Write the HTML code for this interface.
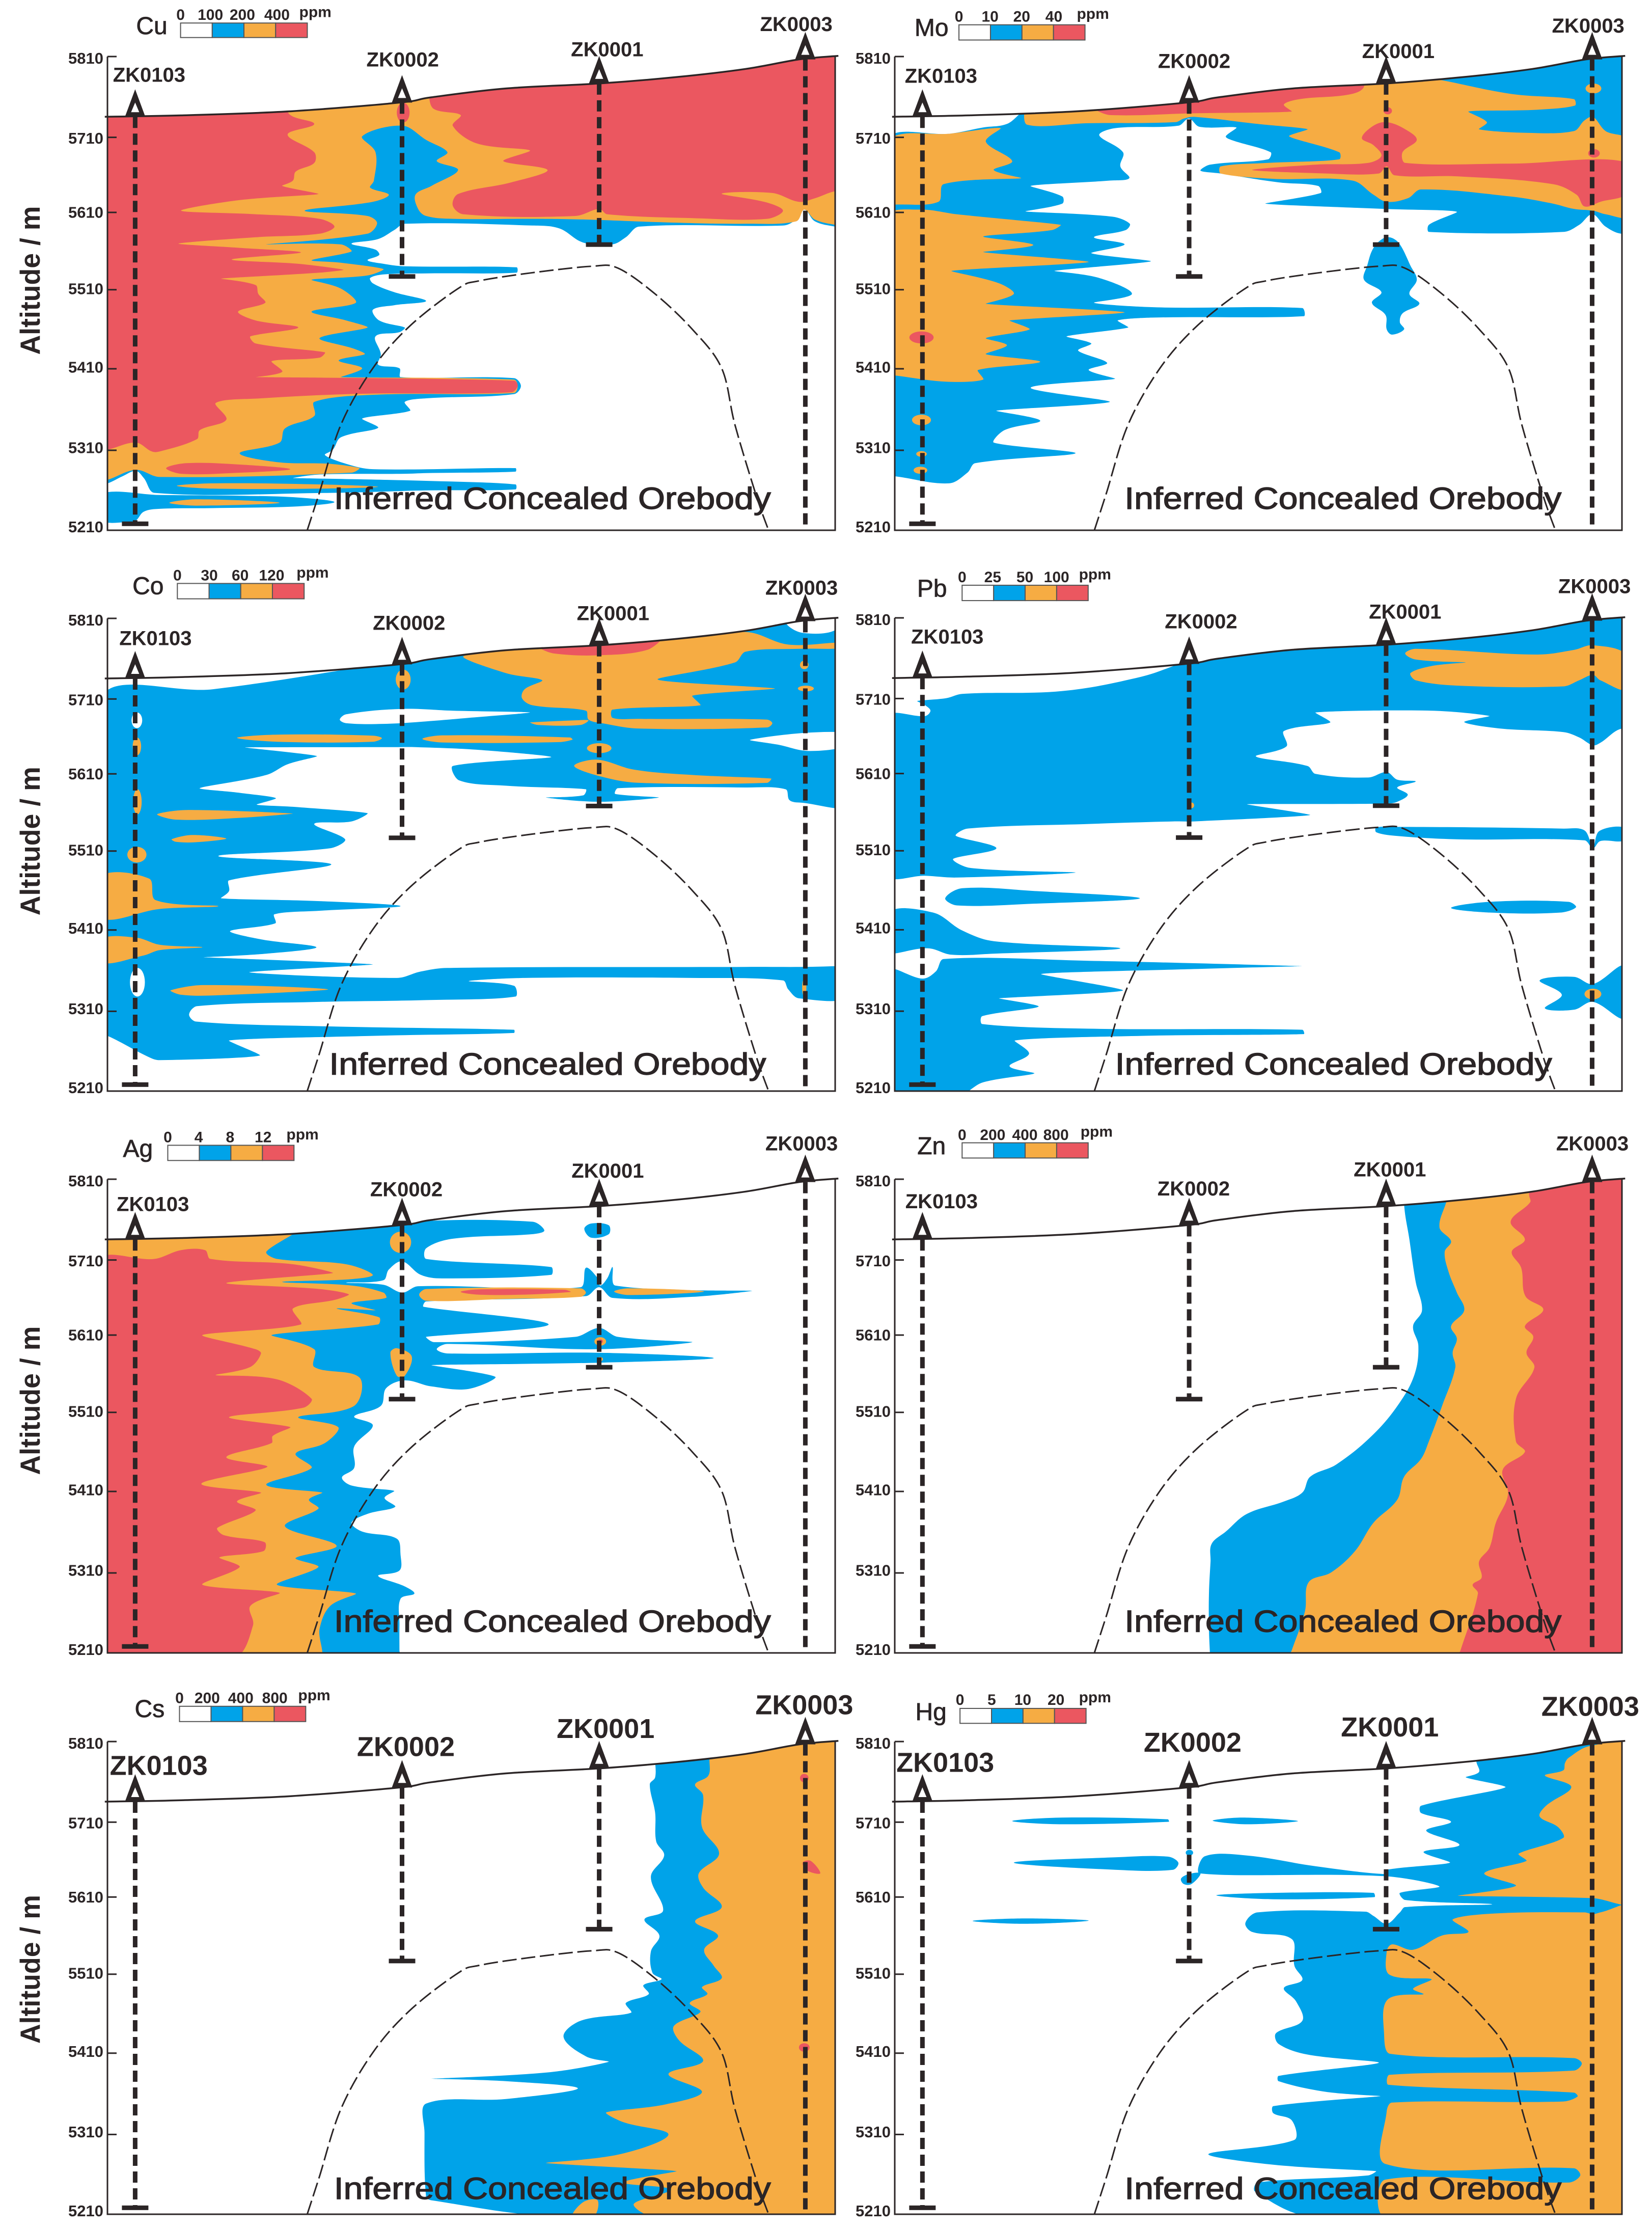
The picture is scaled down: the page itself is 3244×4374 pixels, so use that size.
<!DOCTYPE html>
<html lang="en">
<head>
<meta charset="utf-8">
<title>Geochemical cross-sections</title>
<style>
html,body{margin:0;padding:0;background:#fff}
svg{display:block}
text{font-family:"Liberation Sans",sans-serif;fill:#2b2526}
</style>
</head>
<body>
<svg id="chart" xmlns="http://www.w3.org/2000/svg" width="3244" height="4374" viewBox="0 0 3244 4374"></svg>
<script>
/* Shared axis / section values. Contour vertices are [station along section, depth row]. */
const altitudeTicks = [5810, 5710, 5610, 5510, 5410, 5310, 5210];
const altitudeWarpMetres = [0, -2.3, 2.6, 4.7, 4.5, 1.3, 0];
const wellNames = ['ZK0103', 'ZK0002', 'ZK0001', 'ZK0003'];
const wellStations = [52, 553, 923, 1310];
const wellCollars = [170, 130, 76, 8];
const wellBottoms = [1318, 620, 530, 1330];
const surfaceProfile = [[-5,170],[138,166],[338,155],[548,130],[608,115],[748,90],[923,76],[1068,58],[1198,35],[1298,8],[1372,-2]];
const orebodyProfile = [[375,1337],[398,1230],[438,1040],[498,880],[568,760],[658,655],[698,633],[798,610],[908,592],[958,597],[1028,670],[1098,770],[1153,880],[1178,1040],[1218,1240],[1241,1337]];

/* Cu */
const cuBlueMain = [[190,1365],[190,100],[1600,100],[1600,645],[1568,640],[1530,625],[1510,592],[1490,625],[1470,637],[1200,640],[1175,670],[1150,690],[1095,685],[1050,645],[1000,637],[760,632],[740,650],[710,675],[660,688],[705,705],[712,720],[690,735],[720,745],[760,752],[970,755],[970,770],[800,772],[720,775],[695,785],[700,800],[740,825],[800,850],[740,862],[700,875],[712,905],[760,925],[750,938],[705,950],[715,1000],[710,1030],[750,1040],[752,1065],[965,1068],[978,1090],[965,1113],[800,1125],[760,1135],[770,1160],[680,1182],[710,1208],[640,1235],[625,1270],[610,1285],[650,1310],[700,1325],[968,1322],[968,1332],[800,1336],[760,1338],[600,1340],[550,1350],[800,1358],[968,1368],[968,1382],[800,1385],[620,1392],[290,1392],[270,1350],[255,1330],[230,1345],[202,1365]];
const cuBlueLobe = [[190,1395],[300,1398],[450,1400],[560,1405],[628,1418],[560,1430],[400,1435],[300,1437],[270,1445],[255,1470],[240,1475],[190,1468]];
const cuOrangeMain = [[190,100],[1600,100],[1600,640],[1568,635],[1530,620],[1510,592],[1495,625],[1400,632],[1250,628],[1100,620],[1000,618],[850,618],[800,610],[785,590],[780,550],[810,525],[860,480],[820,455],[840,430],[800,395],[755,355],[680,385],[705,430],[702,510],[695,530],[730,550],[700,570],[572,595],[690,610],[708,630],[690,660],[500,690],[640,690],[660,710],[585,735],[640,742],[720,760],[690,778],[585,790],[640,815],[668,855],[585,880],[650,905],[690,925],[600,955],[665,985],[685,1000],[636,1018],[680,1040],[640,1065],[965,1072],[972,1090],[965,1110],[700,1115],[590,1135],[590,1175],[535,1210],[525,1250],[450,1280],[520,1305],[620,1310],[675,1322],[660,1335],[300,1347],[255,1327],[202,1355],[190,1355]];
const cuRedWest = [[190,100],[540,100],[540,315],[590,350],[540,380],[590,430],[590,460],[555,485],[550,510],[530,525],[598,548],[450,565],[340,595],[480,605],[600,618],[628,640],[600,660],[480,670],[335,688],[450,700],[565,713],[435,733],[560,745],[645,762],[600,770],[415,787],[480,805],[485,830],[498,855],[447,880],[480,905],[560,925],[470,950],[480,970],[610,995],[600,1010],[510,1020],[530,1050],[480,1065],[965,1075],[972,1090],[960,1108],[680,1112],[490,1125],[405,1138],[425,1185],[375,1215],[370,1240],[300,1275],[285,1275],[255,1250],[202,1270],[190,1270]];
const cuRedEast = [[806,100],[806,275],[815,308],[865,325],[850,355],[895,405],[995,425],[945,455],[1028,480],[960,515],[860,548],[850,580],[870,605],[1080,610],[1125,590],[1140,605],[1300,616],[1440,618],[1470,595],[1440,572],[1355,547],[1450,545],[1500,570],[1530,560],[1568,540],[1600,540],[1600,100]];
const cuRedLens = [[312,1322],[350,1308],[450,1312],[545,1325],[450,1335],[340,1338]];
const cuOrangeLensA = [[332,1372],[400,1365],[600,1368],[710,1375],[600,1380],[400,1380]];
const cuOrangeLensB = [[318,1420],[370,1410],[525,1420],[370,1428]];
const cuRedSpots = [[757,318,12,28]];

/* Mo */
const moBlueMain = [[120,397],[240,377],[300,360],[345,350],[385,310],[1000,200],[1600,100],[1600,660],[1510,660],[1480,640],[1455,605],[1430,635],[1400,655],[1145,655],[1145,635],[1198,598],[1060,590],[835,575],[940,545],[935,525],[860,515],[750,490],[712,482],[730,465],[840,450],[845,430],[770,395],[760,385],[780,360],[710,358],[690,335],[670,355],[550,362],[520,382],[565,430],[560,470],[577,503],[540,510],[390,525],[450,555],[450,575],[380,597],[545,612],[578,632],[570,650],[510,670],[568,690],[505,715],[618,738],[435,765],[520,785],[582,830],[510,855],[630,868],[905,870],[908,893],[620,897],[555,905],[575,925],[458,950],[505,970],[480,990],[535,1025],[500,1045],[550,1070],[390,1095],[540,1135],[325,1160],[408,1188],[340,1215],[320,1250],[475,1280],[285,1308],[270,1335],[235,1365],[132,1345],[120,1345]];
const moBlueBlob = [[1060,672],[1075,672],[1090,690],[1110,750],[1122,790],[1108,830],[1127,858],[1095,885],[1090,910],[1098,930],[1075,945],[1065,930],[1063,890],[1037,855],[1055,825],[1022,790],[1028,750],[1040,700]];
const moOrangeUpperWest = [[120,397],[240,377],[333,362],[305,400],[355,455],[320,480],[372,503],[225,520],[215,570],[130,578],[120,578]];
const moOrangeLowerWest = [[120,610],[180,592],[250,605],[447,635],[430,650],[300,668],[395,692],[300,712],[500,740],[240,765],[330,800],[358,830],[305,858],[568,882],[350,905],[388,930],[305,955],[345,975],[305,1000],[408,1022],[290,1045],[300,1072],[230,1078],[130,1060],[120,1060]];
const moOrangeEast = [[383,352],[385,300],[520,290],[700,265],[1020,215],[1120,215],[1300,265],[1420,280],[1422,298],[1350,310],[1220,315],[1255,345],[1240,365],[1330,375],[1420,370],[1440,340],[1456,330],[1480,370],[1520,395],[1520,610],[1480,605],[1456,595],[1420,590],[1380,575],[1300,555],[1130,535],[1105,560],[1065,570],[1040,550],[1000,510],[850,505],[750,490],[750,470],[840,460],[975,450],[975,430],[880,385],[915,365],[820,350],[700,330],[680,335],[665,345],[500,348]];
const moRedTop = [[515,310],[700,270],[1020,215],[1020,250],[990,268],[900,280],[870,295],[885,315],[700,320],[540,325]];
const moRedCentre = [[810,480],[930,465],[1030,460],[1055,440],[1040,410],[1018,390],[1040,355],[1065,345],[1100,365],[1122,395],[1095,430],[1100,460],[1300,462],[1520,458],[1520,545],[1470,570],[1440,583],[1425,550],[1380,520],[1200,498],[1080,495],[1065,470],[1050,490],[950,490]];
const moRedSpots = [[1067,313,8,10],[1458,433,11,12],[183,953,23,17]];
const moOrangeSpots = [[1457,250,15,14],[183,1186,18,15],[183,1282,10,8],[181,1328,13,10]];

/* Co */
const coBlueMain = [[190,402],[400,375],[640,322],[750,290],[1000,150],[1600,150],[1600,692],[1500,692],[1482,685],[1475,655],[1400,650],[1160,652],[1155,668],[1237,678],[1125,690],[1025,678],[1095,672],[1100,655],[950,645],[862,630],[850,590],[1035,565],[900,545],[780,537],[740,537],[460,538],[595,562],[540,585],[500,615],[375,652],[450,665],[518,680],[482,698],[560,705],[690,722],[660,745],[590,752],[648,795],[620,820],[410,842],[622,865],[430,910],[430,940],[415,960],[600,968],[752,982],[600,995],[515,1005],[517,1030],[432,1052],[490,1075],[594,1097],[500,1115],[382,1125],[700,1145],[468,1167],[745,1183],[790,1165],[840,1155],[1400,1152],[1568,1150],[1600,1140],[1600,1235],[1500,1240],[1480,1215],[1470,1190],[1300,1183],[985,1183],[880,1192],[965,1205],[968,1235],[800,1245],[600,1250],[370,1262],[355,1285],[368,1305],[600,1318],[965,1328],[965,1337],[700,1345],[430,1358],[488,1400],[300,1413],[280,1405],[202,1345],[190,1345]];
const coWhiteHoleA = [[638,460],[650,445],[755,430],[850,435],[995,440],[880,455],[800,465],[720,472],[650,470]];
const coWhiteHoleB = [[1408,517],[1512,497],[1600,500],[1600,530],[1520,548],[1460,530]];
const coWhiteCorner = [[1478,195],[1510,218],[1570,208],[1570,160],[1478,170]];
const coOrangeCentre = [[870,283],[1015,260],[1125,252],[1240,240],[1400,215],[1480,250],[1580,245],[1580,260],[1500,262],[1400,270],[1380,300],[1235,348],[1455,373],[1300,393],[1315,420],[1150,432],[1150,455],[1200,458],[1440,460],[1450,470],[1440,482],[1200,485],[1130,470],[1105,460],[1100,435],[1000,420],[980,400],[985,375],[1018,350],[950,330]];
const coOrangeTail = [[995,468],[1080,462],[1105,462],[1090,475],[1010,475]];
const coRedTop = [[1015,260],[1125,235],[1243,230],[1215,265],[1125,280],[1040,275]];
const coLensA = [[445,511],[520,502],[700,505],[717,512],[700,522],[520,522]];
const coLensB = [[793,514],[830,504],[1070,510],[1075,516],[1050,523],[830,524]];
const coLensC = [[1078,590],[1120,572],[1190,600],[1300,615],[1448,625],[1440,637],[1200,637],[1130,620]];
const coLensD = [[295,725],[350,713],[550,723],[450,735],[330,740]];
const coLensE = [[322,795],[360,783],[425,793],[370,803],[330,802]];
const coLensF = [[320,1218],[380,1203],[616,1215],[400,1232],[340,1230]];
const coLeftA = [[190,898],[280,905],[292,965],[410,982],[300,990],[190,1015]];
const coLeftB = [[190,1075],[255,1070],[300,1090],[380,1097],[300,1105],[270,1120],[190,1140]];
const coWhiteSpots = [[257,462,10,22],[258,1195,14,40]];
const coOrangeSpots = [[1125,540,23,14],[757,348,14,28],[257,535,8,25],[258,690,8,35],[257,838,18,22],[1510,307,8,12],[1513,373,15,8],[1510,1210,4,25]];

/* Pb */
const pbBlueMain = [[120,452],[190,450],[200,435],[190,420],[175,408],[230,400],[260,388],[450,380],[600,340],[680,300],[1000,150],[1600,150],[1600,480],[1511,485],[1470,525],[1456,532],[1430,510],[1400,495],[1280,485],[1212,467],[1260,450],[1150,435],[930,440],[958,468],[870,492],[875,535],[817,563],[915,590],[930,612],[1030,622],[1065,607],[1085,628],[1120,633],[1085,650],[1105,670],[1085,690],[1065,695],[800,697],[920,727],[700,745],[660,745],[500,752],[270,765],[248,785],[325,820],[243,850],[275,875],[475,888],[250,902],[190,897],[120,895]];
const pbBlueLensA = [[228,960],[260,932],[400,940],[597,960],[400,975],[250,980]];
const pbBlueLobe = [[120,1000],[205,1000],[260,1050],[320,1080],[560,1100],[320,1115],[240,1118],[195,1100],[130,1115],[120,1115]];
const pbBlueLower = [[120,1162],[185,1185],[210,1165],[225,1130],[500,1135],[905,1150],[700,1158],[410,1172],[565,1218],[330,1240],[405,1263],[298,1290],[298,1312],[500,1325],[905,1328],[908,1340],[600,1345],[360,1358],[387,1395],[350,1430],[397,1450],[300,1475],[255,1510],[120,1510]];
const pbBlueBand = [[1045,762],[1080,760],[1400,765],[1440,770],[1456,815],[1468,772],[1515,762],[1515,798],[1470,800],[1456,820],[1440,798],[1200,795],[1080,785],[1045,775]];
const pbBlueLensB = [[1187,987],[1260,970],[1410,970],[1424,985],[1395,1000],[1260,1000]];
const pbBlueWedge = [[1355,1190],[1420,1180],[1456,1200],[1515,1150],[1515,1295],[1456,1250],[1420,1272],[1365,1268],[1397,1230]];
const pbOrangeEast = [[1100,275],[1120,262],[1350,278],[1420,265],[1456,252],[1520,280],[1520,375],[1470,350],[1456,335],[1430,350],[1400,367],[1200,365],[1120,350],[1110,330],[1150,310],[1215,300],[1120,292]];
const pbOrangeSpots = [[1456,1228,16,15],[695,700,5,8]];

/* Ag */
const agBlueMain = [[190,345],[560,335],[770,300],[1000,300],[1022,325],[1000,335],[850,348],[800,375],[800,405],[1035,428],[1035,450],[830,460],[790,450],[755,412],[730,435],[720,465],[650,472],[720,478],[755,500],[785,482],[1090,485],[1100,430],[1120,455],[1127,480],[1140,460],[1150,428],[1155,480],[1412,495],[1300,512],[1150,515],[1125,485],[1100,510],[800,525],[795,540],[1030,590],[800,625],[815,640],[1080,625],[1125,600],[1160,625],[1300,640],[1120,660],[840,645],[820,660],[840,672],[1125,670],[1340,685],[1125,698],[810,705],[930,738],[880,772],[810,765],[760,748],[725,770],[715,820],[665,850],[700,875],[665,935],[665,995],[642,1022],[660,1045],[740,1060],[722,1080],[742,1105],[690,1125],[660,1150],[680,1175],[745,1195],[752,1240],[750,1285],[710,1300],[760,1330],[778,1350],[752,1365],[750,1440],[750,1510],[750,1530],[190,1530]];
const agBlueBlob = [[1097,320],[1110,305],[1143,310],[1143,335],[1110,345]];
const agOrangeMain = [[190,345],[553,330],[500,385],[520,405],[650,420],[700,450],[660,462],[530,470],[660,480],[720,500],[725,515],[660,530],[705,550],[632,545],[712,570],[710,590],[510,620],[590,660],[590,710],[675,740],[665,820],[560,852],[635,880],[610,925],[555,955],[585,995],[500,1043],[605,1065],[580,1085],[598,1110],[535,1160],[632,1215],[555,1250],[598,1275],[520,1325],[668,1350],[620,1385],[600,1450],[600,1530],[190,1530]];
const agRedMain = [[190,410],[290,405],[340,380],[385,380],[395,405],[550,420],[625,445],[425,473],[600,490],[655,505],[630,520],[550,545],[565,590],[380,620],[480,660],[490,672],[470,710],[405,733],[520,745],[585,800],[570,825],[430,852],[545,880],[512,905],[510,925],[425,965],[502,992],[378,1040],[490,1065],[445,1090],[480,1115],[408,1165],[420,1185],[497,1205],[495,1230],[412,1248],[450,1275],[380,1325],[525,1348],[470,1385],[475,1440],[440,1530],[190,1530]];
const agOrangeLensA = [[787,506],[800,490],[1090,488],[1100,500],[1090,512],[950,518],[800,523]];
const agRedLens = [[865,498],[900,491],[1060,492],[1072,498],[1000,505],[900,506]];
const agOrangeLensB = [[1153,497],[1180,488],[1322,497],[1180,507]];
const agOrangeLobe = [[733,670],[745,657],[773,680],[760,735],[745,735]];
const agOrangeSpots = [[752,358,20,30],[1127,638,11,12],[1127,688,5,6]];
const agRedSpots = [[1127,638,5,6]];

/* Zn */
const znBlue = [[1098,250],[1108,350],[1120,470],[1132,550],[1115,595],[1125,650],[1118,730],[1090,810],[1040,900],[970,985],[920,1020],[905,1065],[870,1090],[800,1125],[760,1175],[733,1210],[731,1260],[728,1350],[728,1450],[730,1525],[730,1535],[1520,1535],[1520,150],[1100,150]];
const znOrange = [[1180,230],[1165,315],[1187,355],[1175,385],[1182,440],[1198,500],[1212,550],[1187,595],[1198,630],[1190,670],[1195,712],[1170,820],[1145,920],[1130,970],[1098,1020],[1085,1085],[1040,1150],[1005,1230],[960,1290],[917,1318],[910,1400],[885,1510],[878,1535],[1520,1535],[1520,150],[1180,150]];
const znRed = [[1335,225],[1337,245],[1300,300],[1327,350],[1302,385],[1320,430],[1328,510],[1362,548],[1327,595],[1343,625],[1330,670],[1345,712],[1310,800],[1310,920],[1327,950],[1285,1000],[1295,1070],[1272,1150],[1260,1220],[1240,1260],[1245,1305],[1228,1325],[1238,1350],[1205,1510],[1198,1535],[1520,1535],[1520,150],[1335,150]];

/* Cs */
const csBlue = [[1230,250],[1230,300],[1220,320],[1230,400],[1232,480],[1247,520],[1222,580],[1245,675],[1210,700],[1238,745],[1222,790],[1225,850],[1242,868],[1208,885],[1218,910],[1175,935],[1185,962],[1090,985],[1058,1030],[1100,1085],[1143,1100],[1030,1130],[810,1148],[950,1155],[1085,1175],[950,1205],[800,1218],[797,1300],[800,1480],[810,1490],[1040,1535],[1620,1535],[1620,150],[1230,150]];
const csOrange = [[1332,250],[1330,295],[1305,320],[1320,350],[1318,440],[1350,515],[1312,570],[1320,610],[1355,665],[1305,705],[1348,745],[1322,785],[1340,830],[1355,865],[1318,890],[1328,910],[1295,935],[1315,960],[1265,1000],[1275,1040],[1320,1098],[1255,1135],[1318,1185],[1250,1220],[1138,1243],[1170,1270],[1255,1305],[1165,1360],[1025,1385],[1270,1408],[1170,1440],[1260,1460],[1190,1500],[1225,1535],[1620,1535],[1620,150],[1332,150]];
const csOrangeBlob = [[1075,1535],[1095,1495],[1122,1490],[1115,1535]];
const csRedPatch = [[1507,540],[1522,535],[1540,570],[1515,562]];
const csRedSpots = [[1510,302,8,12],[1510,1060,10,12]];

/* Hg */
const hgBlueMain = [[1235,255],[1240,285],[1215,300],[1290,328],[1130,380],[1130,400],[1187,425],[1140,450],[1203,490],[1135,510],[1185,540],[1065,560],[1060,572],[930,550],[800,520],[720,522],[710,570],[1060,578],[1165,607],[1090,625],[1100,645],[1265,657],[1100,665],[1090,680],[1065,712],[1040,690],[1025,678],[820,680],[797,710],[810,735],[885,755],[890,830],[905,870],[870,893],[893,930],[905,985],[855,1020],[860,1050],[915,1080],[1050,1103],[860,1140],[860,1155],[950,1185],[1053,1197],[850,1225],[850,1245],[885,1265],[890,1320],[727,1360],[850,1390],[1045,1408],[1030,1420],[820,1440],[815,1465],[920,1535],[1530,1535],[1530,150],[1235,150]];
const hgLensA = [[355,423],[450,413],[650,418],[652,425],[450,432]];
const hgLensB = [[735,422],[790,413],[897,423],[800,432]];
const hgLensC = [[358,540],[550,525],[650,523],[670,540],[660,560],[550,560]];
const hgHook = [[675,585],[690,572],[712,570],[695,600],[680,600]];
const hgLensD = [[742,632],[850,625],[1040,625],[1042,637],[850,643]];
const hgLensE = [[280,704],[380,697],[500,703],[380,712]];
const hgOrangeUpper = [[1410,245],[1450,212],[1530,212],[1530,650],[1456,640],[1200,633],[1310,605],[1250,570],[1330,535],[1315,515],[1400,470],[1390,440],[1355,410],[1367,380],[1415,327],[1365,295],[1400,280],[1403,260]];
const hgOrangeLower = [[1530,662],[1470,680],[1456,685],[1440,680],[1270,683],[1190,700],[1220,735],[1170,745],[1115,785],[1075,770],[1065,790],[1070,855],[1150,868],[1115,895],[1135,910],[1067,925],[1060,1020],[1072,1078],[1420,1090],[1435,1105],[1420,1125],[1070,1137],[1068,1165],[1420,1187],[1427,1198],[1400,1212],[1075,1215],[1065,1240],[1063,1388],[1420,1400],[1432,1420],[1410,1440],[1062,1432],[1060,1535],[1530,1535]];
const hgBlueSpots = [[691,512,7,8]];

const colours = {white:'#ffffff', blue:'#00a3e9', orange:'#f6ac43', red:'#eb5760'};
const ink = '#2b2526';
const NS = 'http://www.w3.org/2000/svg';
const svg = document.getElementById('chart');

const panels = [
 {el:'Cu', cropX:0, cropY:0, sx:1.0459, sy:0.69515, left:211, top:111, h:930, w:1429, wellFont:40,
  legendRange:['0','100','200','400'], legendX:[339,395,455,520], legendLabelRow:40, ppm:[592,35], legendBox:[339,577,65,106], title:[285,72],
  wellLabels:[[280,210],[756,167],[1140,138],[1495,67]], note:[627,1437], axisTitleRow:792,
  regions:[['blue',cuBlueMain],['blue',cuBlueLobe],['orange',cuOrangeMain],['red',cuRedWest],['red',cuRedEast],['red',cuRedLens],['orange',cuOrangeLensA],['orange',cuOrangeLensB]],
  spots:[['red',cuRedSpots]]},
 {el:'Mo', cropX:1620, cropY:0, sx:1.0357, sy:0.69515, left:1757, top:111, h:930, w:1428, wellFont:40,
  legendRange:['0','10','20','40'], legendX:[254,313,373,434], legendLabelRow:45, ppm:[508,40], legendBox:[254,493,70,113], title:[202,77],
  wellLabels:[[220,213],[700,171],[1087,143],[1447,71]], note:[568,1437],
  regions:[['blue',moBlueMain],['blue',moBlueBlob],['orange',moOrangeUpperWest],['orange',moOrangeLowerWest],['orange',moOrangeEast],['red',moRedTop],['red',moRedCentre]],
  spots:[['red',moRedSpots],['orange',moOrangeSpots]]},
 {el:'Co', cropX:0, cropY:1090, sx:1.0459, sy:0.70153, left:211, top:1214, h:928, w:1429, wellFont:40,
  legendRange:['0','30','60','120'], legendX:[333,393,451,510], legendLabelRow:55, ppm:[587,50], legendBox:[333,571,79,122], title:[278,85],
  wellLabels:[[292,231],[768,188],[1151,161],[1505,90]], note:[618,1453], axisTitleRow:800,
  regions:[['blue',coBlueMain],['white',coWhiteHoleA],['white',coWhiteHoleB],['white',coWhiteCorner],['orange',coOrangeCentre],['orange',coOrangeTail],['red',coRedTop],['orange',coLensA],['orange',coLensB],['orange',coLensC],['orange',coLensD],['orange',coLensE],['orange',coLensF],['orange',coLeftA],['orange',coLeftB]],
  spots:[['white',coWhiteSpots],['orange',coOrangeSpots]]},
 {el:'Pb', cropX:1620, cropY:1090, sx:1.0357, sy:0.70153, left:1757, top:1213, h:929, w:1428, wellFont:40,
  legendRange:['0','25','50','100'], legendX:[260,318,379,439], legendLabelRow:60, ppm:[512,55], legendBox:[260,499,84,127], title:[203,92],
  wellLabels:[[232,227],[713,184],[1100,157],[1459,86]], note:[550,1453],
  regions:[['blue',pbBlueMain],['blue',pbBlueLensA],['blue',pbBlueLobe],['blue',pbBlueLower],['blue',pbBlueBand],['blue',pbBlueLensB],['blue',pbBlueWedge],['orange',pbOrangeEast]],
  spots:[['orange',pbOrangeSpots]]},
 {el:'Ag', cropX:0, cropY:2190, sx:1.0459, sy:0.69515, left:211, top:2315, h:930, w:1429, wellFont:40,
  legendRange:['0','4','8','12'], legendX:[315,373,432,494], legendLabelRow:60, ppm:[568,55], legendBox:[315,552,84,127], title:[259,92],
  wellLabels:[[287,249],[763,207],[1141,155],[1505,78]], note:[627,1458], axisTitleRow:805,
  regions:[['blue',agBlueMain],['blue',agBlueBlob],['orange',agOrangeMain],['red',agRedMain],['orange',agOrangeLensA],['red',agRedLens],['orange',agOrangeLensB],['orange',agOrangeLobe]],
  spots:[['orange',agOrangeSpots],['red',agRedSpots]]},
 {el:'Zn', cropX:1620, cropY:2190, sx:1.0357, sy:0.69515, left:1757, top:2315, h:930, w:1428, wellFont:40,
  legendRange:['0','200','400','800'], legendX:[260,318,379,438], legendLabelRow:53, ppm:[515,47], legendBox:[260,499,77,120], title:[202,85],
  wellLabels:[[221,241],[699,205],[1071,151],[1455,78]], note:[568,1458],
  regions:[['blue',znBlue],['orange',znOrange],['red',znRed]],
  spots:[]},
 {el:'Cs', cropX:0, cropY:3280, sx:1.0459, sy:0.6977, left:211, top:3419, h:928, w:1429, wellFont:54,
  legendRange:['0','200','400','800'], legendX:[337,389,452,516], legendLabelRow:75, ppm:[590,70], legendBox:[337,574,100,143], title:[281,106],
  wellLabels:[[298,265],[762,212],[1137,161],[1510,95]], note:[627,1486], axisTitleRow:840,
  regions:[['blue',csBlue],['orange',csOrange],['orange',csOrangeBlob],['red',csRedPatch]],
  spots:[['red',csRedSpots]]},
 {el:'Hg', cropX:1620, cropY:3280, sx:1.0357, sy:0.6977, left:1757, top:3419, h:928, w:1428, wellFont:54,
  legendRange:['0','5','10','20'], legendX:[256,316,375,438], legendLabelRow:80, ppm:[512,76], legendBox:[256,495,106,148], title:[201,115],
  wellLabels:[[228,257],[697,200],[1071,157],[1451,99]], note:[568,1486],
  regions:[['blue',hgBlueMain],['blue',hgLensA],['blue',hgLensB],['blue',hgLensC],['blue',hgHook],['blue',hgLensD],['blue',hgLensE],['orange',hgOrangeUpper],['orange',hgOrangeLower]],
  spots:[['blue',hgBlueSpots]]}
];

/* Axis functions */
function stationX(p, d){ return p.cropX + d * p.sx; }
function rowY(p, r){ return p.cropY + r * p.sy; }
function sectionX(p, u){ return p.left + u * p.w / 1366; }
function sectionY(p, v){ return p.top + v * p.h / 1337; }
function altitudeY(p, a, i){ return p.top + (5810 - (a + altitudeWarpMetres[i])) / 600 * p.h; }

/* Tangent at vertex b: direction a->c, shrunk at sharp turns so tips stay pointed */
function tangent(a, b, c){
  const ux = b[0] - a[0], uy = b[1] - a[1], vx = c[0] - b[0], vy = c[1] - b[1];
  const lu = Math.hypot(ux, uy) || 1, lv = Math.hypot(vx, vy) || 1;
  const cosT = (ux * vx + uy * vy) / (lu * lv);
  const f = Math.sqrt(Math.max(0, (1 + cosT) / 2));
  const dx = c[0] - a[0], dy = c[1] - a[1], ld = Math.hypot(dx, dy) || 1;
  return [dx / ld * f, dy / ld * f];
}
function smoothClosed(q){
  const n = q.length, k = 0.36;
  let s = 'M' + q[0][0].toFixed(1) + ' ' + q[0][1].toFixed(1);
  for (let i = 0; i < n; i++){
    const a = q[(i - 1 + n) % n], b = q[i], c = q[(i + 1) % n], d = q[(i + 2) % n];
    const L = Math.hypot(c[0] - b[0], c[1] - b[1]);
    const tb = tangent(a, b, c), tc = tangent(b, c, d);
    s += 'C' + (b[0] + tb[0] * L * k).toFixed(1) + ' ' + (b[1] + tb[1] * L * k).toFixed(1) + ' ' +
         (c[0] - tc[0] * L * k).toFixed(1) + ' ' + (c[1] - tc[1] * L * k).toFixed(1) + ' ' +
         c[0].toFixed(1) + ' ' + c[1].toFixed(1);
  }
  return s + 'Z';
}
function smoothOpen(q){
  const n = q.length, t = 1 / 6;
  let s = 'M' + q[0][0].toFixed(1) + ' ' + q[0][1].toFixed(1);
  for (let i = 0; i < n - 1; i++){
    const a = q[Math.max(i - 1, 0)], b = q[i], c = q[i + 1], d = q[Math.min(i + 2, n - 1)];
    s += 'C' + (b[0] + (c[0] - a[0]) * t).toFixed(1) + ' ' + (b[1] + (c[1] - a[1]) * t).toFixed(1) + ' ' +
         (c[0] - (d[0] - b[0]) * t).toFixed(1) + ' ' + (c[1] - (d[1] - b[1]) * t).toFixed(1) + ' ' +
         c[0].toFixed(1) + ' ' + c[1].toFixed(1);
  }
  return s;
}
function addText(parent, str, x, y, size, anchor, stroke, bold){
  const t = document.createElementNS(NS, 'text');
  t.setAttribute('x', x);
  t.setAttribute('y', y);
  t.setAttribute('font-size', size);
  t.setAttribute('text-anchor', anchor);
  if (bold){
    t.setAttribute('font-weight', 'bold');
  }
  if (stroke){
    t.setAttribute('stroke', ink);
    t.setAttribute('stroke-width', stroke);
  }
  t.textContent = str;
  parent.appendChild(t);
  return t;
}

panels.forEach(function(p, idx){
  const g = document.createElementNS(NS, 'g');
  
  
  svg.appendChild(g);

  /* Surface and clip */
  const surf = surfaceProfile.map(function(s){ return [sectionX(p, s[0]), sectionY(p, s[1])]; });
  const surfPath = smoothOpen(surf);
  const clip = document.createElementNS(NS, 'clipPath');
  clip.setAttribute('id', 'clip-' + idx);
  const clipShape = document.createElementNS(NS, 'path');
  clipShape.setAttribute('d', surfPath + 'L' + (p.left + p.w) + ' ' + (p.top + p.h) + 'L' + p.left + ' ' + (p.top + p.h) + 'Z');
  clip.appendChild(clipShape);
  g.appendChild(clip);
  const clipRect = document.createElementNS(NS, 'clipPath');
  clipRect.setAttribute('id', 'frame-' + idx);
  const frameShape = document.createElementNS(NS, 'rect');
  frameShape.setAttribute('x', p.left);
  frameShape.setAttribute('y', p.top - 20);
  frameShape.setAttribute('width', p.w);
  frameShape.setAttribute('height', p.h + 20);
  clipRect.appendChild(frameShape);
  g.appendChild(clipRect);

  /* Contours */
  const outer = document.createElementNS(NS, 'g');
  outer.setAttribute('clip-path', 'url(#frame-' + idx + ')');
  g.appendChild(outer);
  const cg = document.createElementNS(NS, 'g');
  cg.setAttribute('clip-path', 'url(#clip-' + idx + ')');
  
  
  outer.appendChild(cg);
  p.regions.forEach(function(r){
    const el = document.createElementNS(NS, 'path');
    
    
    el.setAttribute('fill', colours[r[0]]);
    el.setAttribute('d', smoothClosed(r[1].map(function(v){ return [stationX(p, v[0]), rowY(p, v[1])]; })));
    cg.appendChild(el);
  });
  p.spots.forEach(function(set){
    set[1].forEach(function(v){
      const el = document.createElementNS(NS, 'ellipse');
      
      
      el.setAttribute('fill', colours[set[0]]);
      el.setAttribute('cx', stationX(p, v[0]));
      el.setAttribute('cy', rowY(p, v[1]));
      el.setAttribute('rx', v[2] * p.sx);
      el.setAttribute('ry', v[3] * p.sy);
      cg.appendChild(el);
    });
  });

  /* Frame */
  const frame = document.createElementNS(NS, 'path');
  
  
  frame.setAttribute('fill', 'none');
  frame.setAttribute('stroke', ink);
  frame.setAttribute('stroke-width', '3');
  frame.setAttribute('d', 'M' + p.left + ' ' + p.top + 'V' + (p.top + p.h) + 'H' + (p.left + p.w) + 'V' + p.top);
  g.appendChild(frame);

  /* Surface */
  const line = document.createElementNS(NS, 'path');
  
  
  line.setAttribute('fill', 'none');
  line.setAttribute('stroke', ink);
  line.setAttribute('stroke-width', '3.5');
  line.setAttribute('d', surfPath);
  g.appendChild(line);

  /* Orebody */
  const ore = document.createElementNS(NS, 'path');
  
  
  ore.setAttribute('fill', 'none');
  ore.setAttribute('stroke', ink);
  ore.setAttribute('stroke-width', '3');
  ore.setAttribute('stroke-dasharray', '28 9');
  ore.setAttribute('d', smoothOpen(orebodyProfile.map(function(o){ return [sectionX(p, o[0]), sectionY(p, o[1])]; })));
  g.appendChild(ore);

  /* Ticks */
  altitudeTicks.forEach(function(a, i){
    const y = altitudeY(p, a, i);
    const tick = document.createElementNS(NS, 'line');
    
    
    tick.setAttribute('x1', p.left);
    tick.setAttribute('x2', p.left + 18);
    tick.setAttribute('y1', y);
    tick.setAttribute('y2', y);
    tick.setAttribute('stroke', ink);
    tick.setAttribute('stroke-width', '3');
    g.appendChild(tick);
    const lab = addText(g, String(a), p.left - 8, y + 11 + 3 - 10 * i / 6, 31, 'end', 0, true);
    
    
  });

  /* Wells */
  wellNames.forEach(function(name, i){
    const x = sectionX(p, wellStations[i]);
    const yTop = sectionY(p, wellCollars[i]);
    const yBot = sectionY(p, wellBottoms[i]);
    const shaft = document.createElementNS(NS, 'line');
    
    
    shaft.setAttribute('x1', x);
    shaft.setAttribute('x2', x);
    shaft.setAttribute('y1', yTop);
    shaft.setAttribute('y2', yBot);
    shaft.setAttribute('stroke', ink);
    shaft.setAttribute('stroke-width', '9');
    shaft.setAttribute('stroke-dasharray', '22 11');
    g.appendChild(shaft);
    if (i < 3){
      const foot = document.createElementNS(NS, 'rect');
      
      
      foot.setAttribute('x', x - 26);
      foot.setAttribute('y', yBot - 4);
      foot.setAttribute('width', 52);
      foot.setAttribute('height', 9);
      foot.setAttribute('fill', ink);
      g.appendChild(foot);
    }
    const tri = document.createElementNS(NS, 'polygon');
    
    
    tri.setAttribute('points', x + ',' + (yTop - 54) + ' ' + (x - 20) + ',' + yTop + ' ' + (x + 20) + ',' + yTop);
    tri.setAttribute('fill', ink);
    g.appendChild(tri);
    const inner = document.createElementNS(NS, 'polygon');
    
    
    inner.setAttribute('points', x + ',' + (yTop - 28) + ' ' + (x - 8) + ',' + (yTop - 9) + ' ' + (x + 8) + ',' + (yTop - 9));
    inner.setAttribute('fill', '#fff');
    g.appendChild(inner);
    const lp = p.wellLabels[i];
    const lab = addText(g, name, stationX(p, lp[0]), rowY(p, lp[1]) + p.wellFont * 0.36, p.wellFont, 'middle', 0, true);
    
    
  });

  /* Note */
  const note = addText(g, 'Inferred Concealed Orebody', stationX(p, p.note[0]), rowY(p, p.note[1]), 60, 'start', 1.4, false);
  note.setAttribute('textLength', '858');
  note.setAttribute('lengthAdjust', 'spacingAndGlyphs');
  
  

  /* Legend */
  const box = p.legendBox;
  const x0 = stationX(p, box[0]), x1 = stationX(p, box[1]), y0 = rowY(p, box[2]), y1 = rowY(p, box[3]);
  const cell = (x1 - x0) / 4;
  ['white', 'blue', 'orange', 'red'].forEach(function(c, i){
    const sw = document.createElementNS(NS, 'rect');
    
    
    sw.setAttribute('x', x0 + i * cell);
    sw.setAttribute('y', y0);
    sw.setAttribute('width', cell);
    sw.setAttribute('height', y1 - y0);
    sw.setAttribute('fill', colours[c]);
    sw.setAttribute('stroke', '#555');
    sw.setAttribute('stroke-width', '2');
    g.appendChild(sw);
  });
  p.legendRange.forEach(function(v, i){
    const lab = addText(g, v, stationX(p, p.legendX[i]), rowY(p, p.legendLabelRow) + 11, 30, 'middle', 0, true);
    
    
  });
  const ppm = addText(g, 'ppm', stationX(p, p.ppm[0]), rowY(p, p.ppm[1]) + 9, 30, 'middle', 0, true);
  
  
  const title = addText(g, p.el, stationX(p, p.title[0]), rowY(p, p.title[1]) + 17, 48, 'middle', 0.8, false);
  
  

  /* Axis title on left column */
  if (p.axisTitleRow){
    const ty = rowY(p, p.axisTitleRow);
    const at = addText(g, 'Altitude / m', 0, 0, 55, 'middle', 0, true);
    at.setAttribute('transform', 'translate(78 ' + ty + ') rotate(-90)');
    at.setAttribute('textLength', '292');
    at.setAttribute('lengthAdjust', 'spacingAndGlyphs');
    
    
  }
});
</script>
</body>
</html>
